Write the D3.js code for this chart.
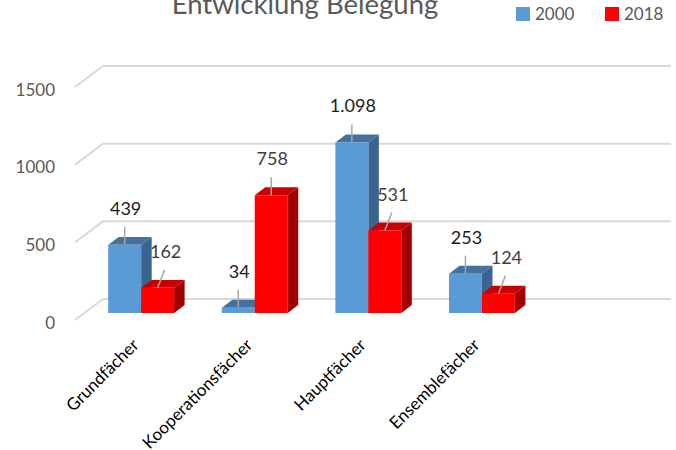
<!DOCTYPE html>
<html>
<head>
<meta charset="utf-8">
<script src="https://cdn.jsdelivr.net/npm/d3@7"></script>
<style>
  html, body { margin: 0; padding: 0; background: #fff; }
  svg { display: block; font-family: Lato, "Open Sans", sans-serif; }
</style>
</head>
<body>
<svg id="chart" width="676" height="450"></svg>
<script>
// Chart data
const chartTitle = "Entwicklung Belegung";
const categories = ["Grundfächer", "Kooperationsfächer", "Hauptfächer", "Ensemblefächer"];
const seriesNames = ["2000", "2018"];
const values2000 = [439, 34, 1098, 253];
const values2018 = [162, 758, 531, 124];
const yTicks = [0, 500, 1000, 1500];

// Styling
const seriesColors = {
  "2000": { front: "#5b9bd5", top: "#44729f", side: "#3b6590" },
  "2018": { front: "#ff0000", top: "#c80000", side: "#a00000" }
};
const labelColors = { "2000": "#1a1a1a", "2018": "#404040" };

const svg = d3.select("#chart");

// 3D floor: depth runs from front (z=0) to back wall (z=1)
const depthDX = 28, depthDY = -21;
const barZ0 = 1 / 3, barZ1 = 0.71;

// Scales in the front plane
const y = d3.scaleLinear().domain([0, 1500]).range([320, 87]);
const slots = categories.concat([" "]);   // trailing empty slot
const x = d3.scaleBand().domain(slots).range([75, 643])
  .paddingInner(0.42).paddingOuter(0.21);
const xs = d3.scaleBand().domain(seriesNames).range([0, x.bandwidth()]);

const numFmt = d3.formatLocale({ decimal: ",", thousands: ".", grouping: [3], currency: ["", "€"] }).format(",d");

// Title (partly above the top edge)
svg.append("text")
  .attr("x", 305).attr("y", 14)
  .attr("text-anchor", "middle")
  .attr("fill", "#595959")
  .attr("font-size", 27.5)
  .text(chartTitle);

// Legend
const legend = svg.append("g");
const legendX = d3.scalePoint().domain(seriesNames).range([516, 605]);
seriesNames.forEach(s => {
  const g = legend.append("g").attr("transform", `translate(${legendX(s)},7)`);
  g.append("rect").attr("width", 14).attr("height", 14).attr("fill", seriesColors[s].front);
  g.append("text").attr("x", 19).attr("y", 13)
    .attr("fill", "#595959").attr("font-size", 17).text(s);
});

// Gridlines: side wall diagonal + back wall horizontal
const xLeft = x.range()[0], xRight = x.range()[1];
svg.append("g").selectAll("path").data(yTicks).join("path")
  .attr("d", v => {
    const yf = y(v);
    return `M${xLeft},${yf}L${xLeft + depthDX},${yf + depthDY}L${xRight + depthDX},${yf + depthDY}`;
  })
  .attr("fill", "none")
  .attr("stroke", "#d9d9d9")
  .attr("stroke-width", 2);

// Y tick labels
svg.append("g").selectAll("text").data(yTicks).join("text")
  .attr("x", 55).attr("y", v => y(v) + 2)
  .attr("text-anchor", "end")
  .attr("dominant-baseline", "central")
  .attr("fill", "#595959")
  .attr("font-size", 17)
  .text(v => d3.format("d")(v));

// Bars
const bars = [];
categories.forEach((c, i) => {
  [values2000[i], values2018[i]].forEach((v, k) => {
    bars.push({ cat: c, series: seriesNames[k], value: v, other: k ? values2000[i] : values2018[i] });
  });
});

const fdx = depthDX * barZ0, fdy = depthDY * barZ0;                       // front face offset
const bdx = depthDX * (barZ1 - barZ0), bdy = depthDY * (barZ1 - barZ0);   // face depth

bars.forEach(b => {
  b.x0 = x(b.cat) + xs(b.series) + fdx;
  b.x1 = b.x0 + xs.bandwidth();
  b.yb = y(0) + fdy;
  b.yt = y(b.value) + fdy;
});

const barG = svg.append("g").selectAll("g").data(bars).join("g");
barG.append("path")  // side
  .attr("d", b => `M${b.x1},${b.yt}L${b.x1 + bdx},${b.yt + bdy}L${b.x1 + bdx},${b.yb + bdy}L${b.x1},${b.yb}Z`)
  .attr("fill", b => seriesColors[b.series].side);
barG.append("path")  // top
  .attr("d", b => `M${b.x0},${b.yt}L${b.x1},${b.yt}L${b.x1 + bdx},${b.yt + bdy}L${b.x0 + bdx},${b.yt + bdy}Z`)
  .attr("fill", b => seriesColors[b.series].top);
barG.append("rect")  // front
  .attr("x", b => b.x0).attr("y", b => b.yt)
  .attr("width", b => b.x1 - b.x0).attr("height", b => b.yb - b.yt)
  .attr("fill", b => seriesColors[b.series].front);

// Data labels with leader lines
bars.forEach(b => {
  const cx = (b.x0 + b.x1) / 2;
  // labels of a shorter 2018 bar step aside from the taller neighbour
  const shift = (b.series === "2018" && b.value < b.other) ? 8 : 1;
  b.lx = cx + shift;
  b.ly = b.yt - 30;
  b.cx = cx;
});
const lab = svg.append("g");
lab.selectAll("line").data(bars).join("line")
  .attr("x1", b => b.lx - 1).attr("y1", b => b.ly + 12)
  .attr("x2", b => b.cx).attr("y2", b => b.yt)
  .attr("stroke", "#a6a6a6").attr("stroke-width", 1.5);
lab.selectAll("text").data(bars).join("text")
  .attr("x", b => b.lx).attr("y", b => b.ly)
  .attr("text-anchor", "middle")
  .attr("fill", b => labelColors[b.series])
  .attr("font-size", 18)
  .text(b => numFmt(b.value));

// Category labels, rotated
svg.append("g").selectAll("text").data(categories).join("text")
  .attr("transform", c => `translate(${x(c) + x.bandwidth() / 2 + 8},346) rotate(-45)`)
  .attr("text-anchor", "end")
  .attr("fill", "#000")
  .attr("font-size", 17)
  .text(c => c);
</script>
</body>
</html>
